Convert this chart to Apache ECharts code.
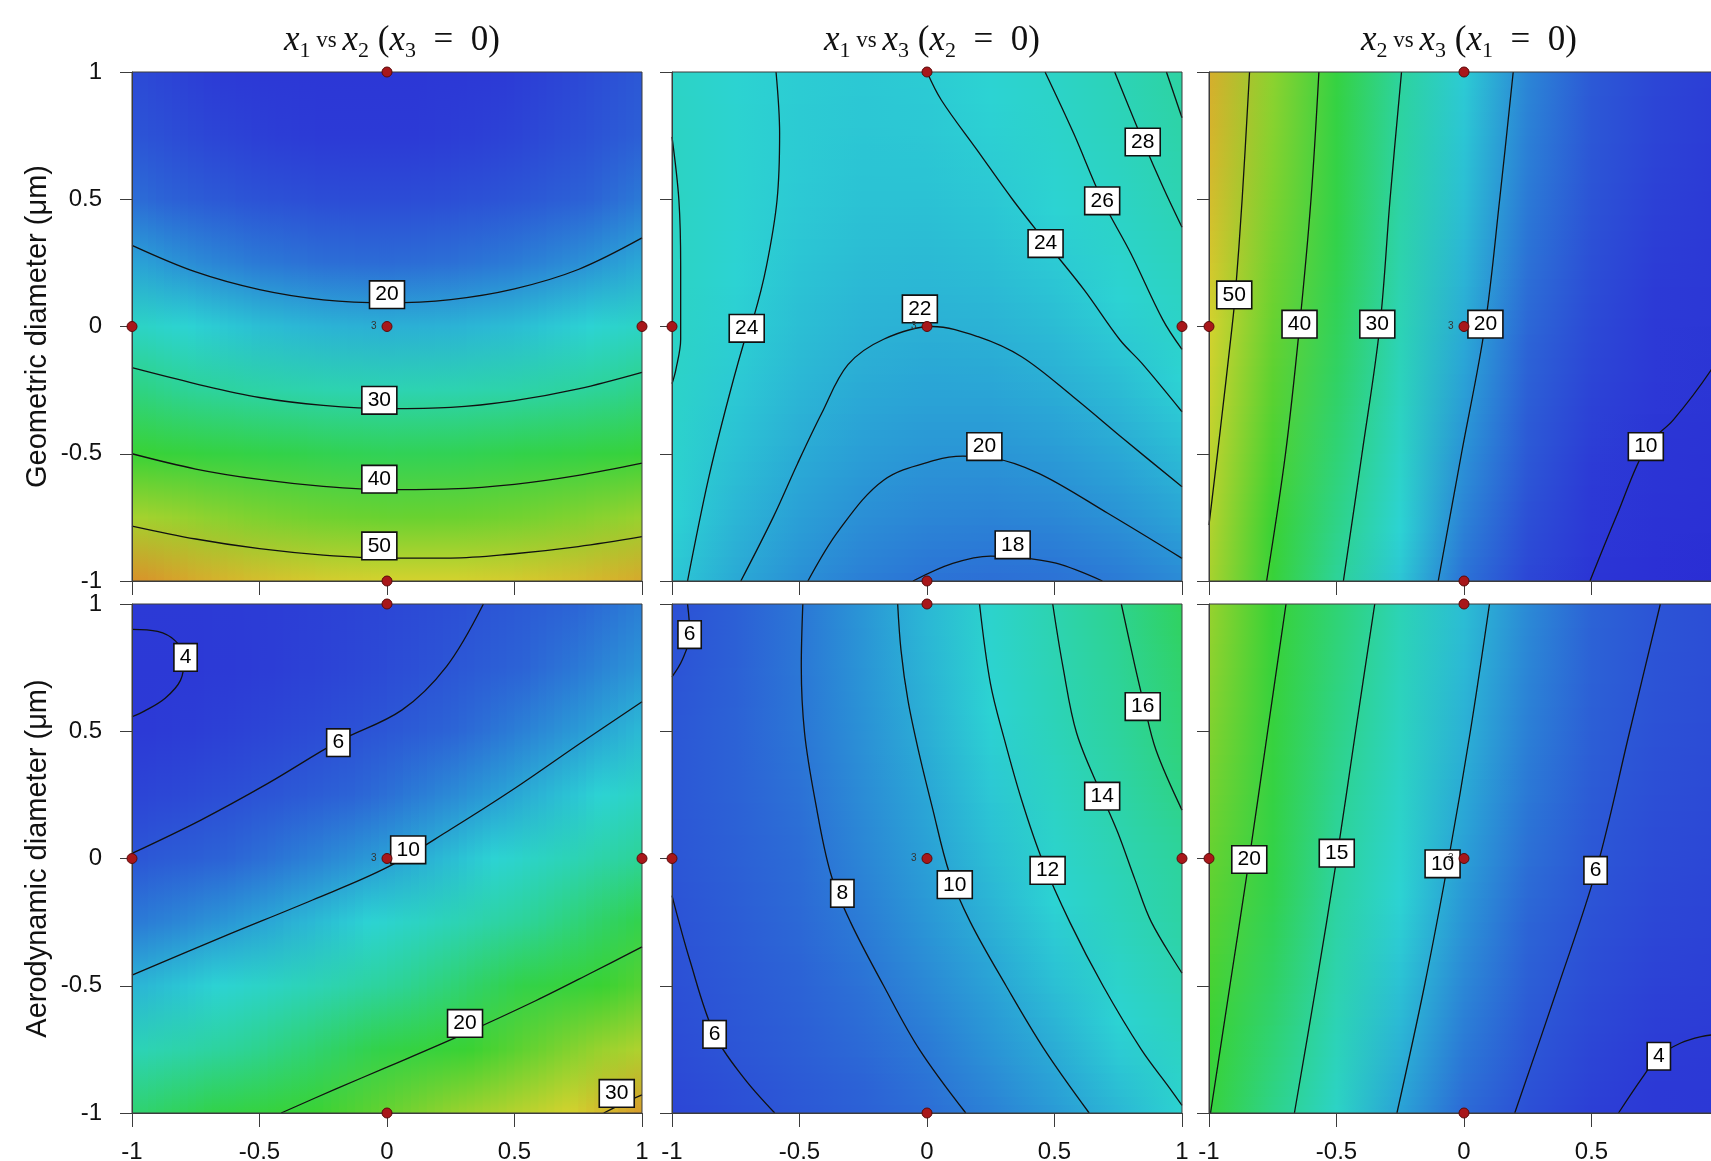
<!DOCTYPE html>
<html><head><meta charset="utf-8">
<script src="https://cdn.jsdelivr.net/npm/echarts/dist/echarts.min.js"></script>
<style>html,body{margin:0;padding:0;background:#fff}#c{width:1711px;height:1161px}</style>
</head><body><div id="c"></div>
<script>
// ---------------- data ----------------
const nodes = [-1, -0.75, -0.5, -0.25, 0, 0.25, 0.5, 0.75, 1];
const panelTitles = [['1','2','3'], ['1','3','2'], ['2','3','1']];
const rowNames = ['Geometric diameter (μm)', 'Aerodynamic diameter (μm)'];
const rowRanges = [[6, 59], [1, 32]];
const designPoints = [[0, 1], [-1, 0], [0, 0], [1, 0], [0, -1]];
const designReps = [1, 1, 3, 1, 1];

// response grids: rows y = 1 ... -1 (top to bottom), columns x = -1 ... 1
const p1Values = [
 [13.46, 11.82, 10.71, 10.12, 10.06, 10.53, 11.52, 13.05, 15.10],
 [14.79, 13.09, 11.92, 11.28, 11.16, 11.57, 12.51, 13.98, 15.97],
 [17.36, 15.61, 14.38, 13.68, 13.51, 13.87, 14.75, 16.16, 18.10],
 [21.18, 19.37, 18.08, 17.33, 17.10, 17.40, 18.23, 19.58, 21.46],
 [26.23, 24.37, 23.03, 22.21, 21.93, 22.17, 22.94, 24.24, 26.07],
 [32.53, 30.61, 29.21, 28.34, 28.00, 28.19, 28.90, 30.14, 31.91],
 [40.07, 38.09, 36.64, 35.72, 35.32, 35.45, 36.11, 37.29, 39.01],
 [48.86, 46.82, 45.32, 44.33, 43.88, 43.95, 44.56, 45.69, 47.34],
 [58.88, 56.79, 55.23, 54.19, 53.68, 53.70, 54.24, 55.32, 56.92]
];
const p2Values = [
 [25.97, 24.75, 24.02, 23.77, 24.00, 24.72, 25.91, 27.59, 29.75],
 [26.20, 24.86, 23.99, 23.62, 23.72, 24.31, 25.38, 26.93, 28.96],
 [26.28, 24.81, 23.82, 23.31, 23.29, 23.75, 24.69, 26.11, 28.02],
 [26.22, 24.62, 23.51, 22.87, 22.72, 23.05, 23.86, 25.16, 26.94],
 [26.02, 24.29, 23.04, 22.28, 22.00, 22.20, 22.89, 24.05, 25.70],
 [25.67, 23.81, 22.44, 21.55, 21.14, 21.21, 21.77, 22.81, 24.33],
 [25.17, 23.19, 21.69, 20.67, 20.13, 20.08, 20.50, 21.42, 22.81],
 [24.53, 22.42, 20.79, 19.64, 18.98, 18.80, 19.10, 19.88, 21.15],
 [23.75, 21.51, 19.75, 18.47, 17.68, 17.37, 17.54, 18.20, 19.33]
];
const p3Values = [
 [56.54, 46.49, 37.71, 30.20, 23.96, 18.99, 15.28, 12.85, 11.68],
 [55.99, 45.99, 37.24, 29.77, 23.56, 18.62, 14.95, 12.56, 11.43],
 [55.34, 45.37, 36.65, 29.22, 23.05, 18.15, 14.52, 12.15, 11.06],
 [54.56, 44.63, 35.95, 28.56, 22.42, 17.55, 13.96, 11.63, 10.58],
 [53.68, 43.78, 35.14, 27.78, 21.68, 16.85, 13.29, 11.00, 9.98],
 [52.69, 42.82, 34.22, 26.89, 20.83, 16.04, 12.51, 10.26, 9.27],
 [51.58, 41.75, 33.19, 25.90, 19.87, 15.11, 11.62, 9.41, 8.46],
 [50.36, 40.57, 32.03, 24.78, 18.79, 14.07, 10.62, 8.44, 7.52],
 [49.02, 39.27, 30.77, 23.56, 17.60, 12.91, 9.50, 7.35, 6.48]
];
const p4Values = [
 [4.07, 4.09, 4.25, 4.57, 5.02, 5.62, 6.37, 7.26, 8.29],
 [3.76, 3.94, 4.27, 4.74, 5.35, 6.11, 7.02, 8.07, 9.26],
 [4.01, 4.36, 4.84, 5.47, 6.24, 7.16, 8.22, 9.44, 10.79],
 [4.81, 5.31, 5.95, 6.74, 7.67, 8.75, 9.97, 11.34, 12.85],
 [6.15, 6.81, 7.61, 8.56, 9.65, 10.89, 12.27, 13.80, 15.47],
 [8.04, 8.86, 9.82, 10.93, 12.18, 13.58, 15.12, 16.81, 18.64],
 [10.49, 11.47, 12.58, 13.85, 15.26, 16.82, 18.52, 20.37, 22.35],
 [13.48, 14.62, 15.90, 17.32, 18.89, 20.61, 22.47, 24.47, 26.62],
 [17.01, 18.31, 19.75, 21.33, 23.06, 24.94, 26.95, 29.12, 31.43]
];
const p5Values = [
 [5.72, 6.84, 7.94, 9.27, 10.72, 12.31, 14.05, 15.91, 17.90],
 [5.95, 6.94, 7.97, 9.21, 10.54, 12.07, 13.77, 15.53, 17.29],
 [6.20, 7.07, 7.93, 9.07, 10.29, 11.74, 13.41, 15.12, 16.82],
 [6.25, 7.03, 7.74, 8.85, 9.96, 11.35, 12.84, 14.46, 16.20],
 [6.13, 6.89, 7.51, 8.59, 9.68, 10.94, 12.29, 13.76, 15.26],
 [5.90, 6.66, 7.40, 8.21, 9.28, 10.41, 11.64, 13.19, 14.72],
 [5.70, 6.40, 7.10, 7.78, 8.71, 9.75, 11.00, 12.32, 13.90],
 [5.40, 6.10, 6.76, 7.42, 8.08, 9.14, 10.20, 11.53, 12.85],
 [4.95, 5.60, 6.26, 6.93, 7.60, 8.40, 9.44, 10.63, 12.00]
];
const p6Values = [
 [25.16, 20.79, 16.96, 13.68, 10.95, 8.77, 7.14, 6.05, 5.52],
 [24.72, 20.40, 16.62, 13.39, 10.71, 8.58, 7.00, 5.96, 5.48],
 [24.22, 19.95, 16.22, 13.04, 10.41, 8.33, 6.80, 5.81, 5.38],
 [23.67, 19.45, 15.77, 12.64, 10.06, 8.03, 6.55, 5.61, 5.23],
 [23.06, 18.89, 15.26, 12.18, 9.65, 7.67, 6.24, 5.35, 5.02],
 [22.39, 18.27, 14.69, 11.66, 9.18, 7.25, 5.87, 5.03, 4.75],
 [21.67, 17.60, 14.07, 11.09, 8.66, 6.78, 5.45, 4.66, 4.43],
 [20.89, 16.87, 13.39, 10.46, 8.08, 6.25, 4.97, 4.23, 4.05],
 [20.06, 16.09, 12.66, 9.78, 7.45, 5.67, 4.44, 3.75, 3.62]
];

// contour lines: level, points, label anchor
const p1Contours = [
 {level: 20, pts: [[-1,0.319],[-0.75,0.2145],[-0.5,0.145],[-0.25,0.105],[0,0.093],[0.25,0.106],[0.5,0.148],[0.75,0.224],[1,0.348]], at: [0, 0.125]},
 {level: 30, pts: [[-1,-0.162],[-0.75,-0.225],[-0.5,-0.279],[-0.25,-0.31],[0,-0.323],[0.25,-0.318],[0.5,-0.291],[0.75,-0.245],[1,-0.18]], at: [-0.03, -0.29]},
 {level: 40, pts: [[-1,-0.5],[-0.75,-0.56],[-0.5,-0.601],[-0.25,-0.628],[0,-0.641],[0.25,-0.638],[0.5,-0.62],[0.75,-0.585],[1,-0.537]], at: [-0.03, -0.6]},
 {level: 50, pts: [[-1,-0.784],[-0.75,-0.835],[-0.5,-0.873],[-0.25,-0.898],[0,-0.91],[0.25,-0.91],[0.5,-0.893],[0.75,-0.865],[1,-0.826]], at: [-0.03, -0.862]}
];
const p2Contours = [
 {level: 26, pts: [[-1,0.745],[-0.973,0.497],[-0.966,0.235],[-0.966,-0.05],[-0.985,-0.17],[-1,-0.225]], at: null},
 {level: 24, pts: [[-0.592,1],[-0.578,0.759],[-0.588,0.497],[-0.63,0.235],[-0.679,0.039],[-0.703,-0.014],[-0.777,-0.276],[-0.858,-0.603],[-0.939,-1]], at: [-0.707,-0.007]},
 {level: 22, pts: [[-0.73,-1],[-0.602,-0.747],[-0.507,-0.537],[-0.413,-0.341],[-0.31,-0.15],[-0.17,-0.05],[0.02,0.0],[0.2,-0.04],[0.371,-0.119],[0.573,-0.276],[0.776,-0.446],[1,-0.63]], at: [-0.028,0.069]},
 {level: 20, pts: [[-0.467,-1],[-0.345,-0.8],[-0.169,-0.603],[0.033,-0.525],[0.141,-0.509],[0.25,-0.515],[0.438,-0.577],[0.709,-0.734],[1,-0.911]], at: [0.225,-0.472]},
 {level: 18, pts: [[-0.055,-1],[0.101,-0.931],[0.249,-0.902],[0.337,-0.905],[0.506,-0.93],[0.688,-1]], at: [0.336,-0.858]},
 {level: 24, pts: [[0,1],[0.056,0.89],[0.196,0.694],[0.337,0.497],[0.47,0.327],[0.617,0.143],[0.757,-0.053],[0.843,-0.145],[1,-0.335]], at: [0.465,0.326]},
 {level: 26, pts: [[0.463,1],[0.575,0.759],[0.687,0.497],[0.799,0.288],[0.925,0.026],[1,-0.09]], at: [0.687,0.494]},
 {level: 28, pts: [[0.736,1],[0.848,0.726],[0.925,0.549],[1,0.39]], at: [0.846,0.725]},
 {level: 30, pts: [[0.939,1],[1,0.82]], at: null}
];
const p3Contours = [
 {level: 50, pts: [[-0.841,1],[-0.87,0.5],[-0.897,0.124],[-0.911,-0.014],[-0.955,-0.4],[-1,-0.78]], at: [-0.901,0.124]},
 {level: 40, pts: [[-0.569,1],[-0.6,0.5],[-0.645,0],[-0.7,-0.5],[-0.774,-1]], at: [-0.645,0.009]},
 {level: 30, pts: [[-0.245,1],[-0.29,0.5],[-0.33,0],[-0.4,-0.5],[-0.473,-1]], at: [-0.34,0.009]},
 {level: 20, pts: [[0.193,1],[0.14,0.5],[0.082,0],[-0.01,-0.5],[-0.101,-1]], at: [0.084,0.009]},
 {level: 10, pts: [[0.494,-1],[0.6,-0.74],[0.716,-0.472],[0.821,-0.367],[0.969,-0.171],[1,-0.1]], at: [0.713,-0.472]}
];
const p4Contours = [
 {level: 4, pts: [[-1,0.9],[-0.9,0.892],[-0.83,0.855],[-0.795,0.79],[-0.81,0.7],[-0.87,0.63],[-0.95,0.58],[-1,0.557]], at: [-0.79,0.79]},
 {level: 6, pts: [[0.378,1],[0.233,0.754],[0.058,0.583],[-0.192,0.459],[-0.467,0.295],[-0.73,0.151],[-1,0.02]], at: [-0.191,0.455]},
 {level: 10, pts: [[-1,-0.458],[-0.642,-0.307],[-0.292,-0.163],[0,-0.035],[0.25,0.115],[0.5,0.275],[0.758,0.453],[1,0.616]], at: [0.083,0.034]},
 {level: 20, pts: [[-0.415,-1],[-0.2,-0.905],[0,-0.82],[0.3,-0.69],[0.583,-0.559],[0.8,-0.45],[1,-0.347]], at: [0.306,-0.648]},
 {level: 30, pts: [[0.85,-1],[0.93,-0.96],[1,-0.929]], at: [0.901,-0.923]}
];
const p5Contours = [
 {level: 6, pts: [[-0.939,1],[-0.93,0.88],[-0.96,0.78],[-1,0.714]], at: [-0.931,0.88]},
 {level: 6, pts: [[-1,-0.146],[-0.93,-0.4],[-0.833,-0.691],[-0.72,-0.86],[-0.597,-1]], at: [-0.833,-0.691]},
 {level: 8, pts: [[-0.487,1],[-0.493,0.754],[-0.48,0.492],[-0.439,0.23],[-0.378,-0.058],[-0.3,-0.25],[-0.17,-0.5],[-0.03,-0.75],[0.152,-1]], at: [-0.332,-0.137]},
 {level: 10, pts: [[-0.115,1],[-0.102,0.819],[-0.075,0.623],[-0.034,0.426],[0.02,0.204],[0.088,-0.058],[0.17,-0.25],[0.31,-0.5],[0.46,-0.75],[0.636,-1]], at: [0.109,-0.103]},
 {level: 12, pts: [[0.206,1],[0.249,0.686],[0.304,0.466],[0.371,0.23],[0.452,-0.006],[0.56,-0.25],[0.69,-0.5],[0.84,-0.75],[0.95,-0.9],[1,-0.97]], at: [0.473,-0.047]},
 {level: 14, pts: [[0.493,1],[0.533,0.754],[0.587,0.492],[0.688,0.243],[0.749,0.1],[0.816,-0.084],[0.88,-0.25],[1,-0.45]], at: [0.687,0.245]},
 {level: 16, pts: [[0.762,1],[0.816,0.754],[0.85,0.61],[0.898,0.426],[1,0.19]], at: [0.846,0.597]}
];
const p6Contours = [
 {level: 20, pts: [[-0.698,1],[-0.77,0.5],[-0.842,0],[-0.918,-0.5],[-0.994,-1]], at: [-0.842,-0.004]},
 {level: 15, pts: [[-0.35,1],[-0.425,0.5],[-0.499,0],[-0.58,-0.5],[-0.665,-1]], at: [-0.499,0.021]},
 {level: 10, pts: [[0.10,1],[0.025,0.5],[-0.06,0],[-0.155,-0.5],[-0.263,-1]], at: [-0.084,-0.021]},
 {level: 6, pts: [[0.77,1],[0.65,0.5],[0.52,-0.04],[0.37,-0.5],[0.199,-1]], at: [0.516,-0.047]},
 {level: 4, pts: [[0.606,-1],[0.70,-0.86],[0.764,-0.777],[0.85,-0.725],[0.93,-0.70],[1,-0.69]], at: [0.764,-0.777]}
];

// ---------------- styling / layout ----------------
const panelValues = [p1Values, p2Values, p3Values, p4Values, p5Values, p6Values];
const panelContours = [p1Contours, p2Contours, p3Contours, p4Contours, p5Contours, p6Contours];
const panelOrient = ['v', 'h', 'h', 'v', 'h', 'h'];
const colLeft = [132, 672, 1209];
const rowTop = [72, 604];
const PW = 510, PH = 509;
const LABEL_FONT = 'Liberation Sans';

const colorStops = [
 [0.00, [42, 44, 212]], [0.10, [44, 58, 214]], [0.20, [44, 100, 214]], [0.28, [42, 160, 214]],
 [0.35, [44, 211, 211]], [0.47, [45, 211, 150]], [0.57, [50, 210, 74]], [0.65, [58, 210, 51]],
 [0.78, [152, 210, 46]], [0.90, [212, 210, 46]], [1.00, [216, 142, 42]]
];
function colorOf(v, range) {
  let t = (v - range[0]) / (range[1] - range[0]);
  t = Math.max(0, Math.min(1, t));
  for (let i = 1; i < colorStops.length; i++) {
    if (t <= colorStops[i][0]) {
      const a = colorStops[i - 1], b = colorStops[i];
      const u = (t - a[0]) / (b[0] - a[0]);
      const c = a[1].map((x, k) => Math.round(x + (b[1][k] - x) * u));
      return 'rgb(' + c.join(',') + ')';
    }
  }
  const l = colorStops[colorStops.length - 1][1];
  return 'rgb(' + l.join(',') + ')';
}

function backgroundSeries(p) {
  const values = panelValues[p];
  const range = rowRanges[Math.floor(p / 3)];
  const orient = panelOrient[p];
  const n = nodes.length;
  const SUB = 8;
  return {
    type: 'custom', xAxisIndex: p, yAxisIndex: p, silent: true, z: 1, animation: false,
    data: nodes.slice(0, n - 1).map((v, j) => [j]),
    renderItem: function (params, api) {
      const j = api.value(0);
      const children = [];
      for (let k = 0; k < SUB; k++) {
        const t = (k + 0.5) / SUB;
        if (orient === 'h') {
          const yTop = nodes[n - 1 - j], yBot = nodes[n - 2 - j];
          const y0 = yTop + (yBot - yTop) * k / SUB, y1 = yTop + (yBot - yTop) * (k + 1) / SUB;
          const a = api.coord([-1, y0]), b = api.coord([1, y1]);
          const stops = values[j].map((v, i) => ({offset: i / (n - 1), color: colorOf(v * (1 - t) + values[j + 1][i] * t, range)}));
          children.push({type: 'rect', shape: {x: a[0], y: a[1], width: b[0] - a[0], height: b[1] - a[1] + (j === n - 2 && k === SUB - 1 ? 0 : 1)},
            style: {fill: {type: 'linear', x: 0, y: 0, x2: 1, y2: 0, colorStops: stops}}});
        } else {
          const x0 = nodes[j] + (nodes[j + 1] - nodes[j]) * k / SUB, x1 = nodes[j] + (nodes[j + 1] - nodes[j]) * (k + 1) / SUB;
          const a = api.coord([x0, 1]), b = api.coord([x1, -1]);
          const stops = values.map((row, r) => ({offset: r / (n - 1), color: colorOf(row[j] * (1 - t) + row[j + 1] * t, range)}));
          children.push({type: 'rect', shape: {x: a[0], y: a[1], width: b[0] - a[0] + (j === n - 2 && k === SUB - 1 ? 0 : 1), height: b[1] - a[1]},
            style: {fill: {type: 'linear', x: 0, y: 0, x2: 0, y2: 1, colorStops: stops}}});
        }
      }
      return {type: 'group', children: children};
    }
  };
}

const grids = [], xAxes = [], yAxes = [], series = [], titles = [];
for (let p = 0; p < 6; p++) {
  const r = Math.floor(p / 3), c = p % 3;
  grids.push({left: colLeft[c], top: rowTop[r], width: PW, height: PH, show: true, z: 15,
    backgroundColor: 'transparent', borderColor: '#3c3c3c', borderWidth: 1, containLabel: false, outerBoundsMode: 'none'});
  xAxes.push({gridIndex: p, type: 'value', min: -1, max: 1, interval: 0.5, z: 12,
    axisLine: {show: true, onZero: false, lineStyle: {color: '#3c3c3c', width: 1}},
    axisTick: {show: true, length: 14, lineStyle: {color: '#3c3c3c', width: 1}},
    axisLabel: {show: r === 1, fontFamily: LABEL_FONT, fontSize: 24, color: '#111', margin: 27, showMinLabel: true, showMaxLabel: true, hideOverlap: false},
    splitLine: {show: false}});
  yAxes.push({gridIndex: p, type: 'value', min: -1, max: 1, interval: 0.5, z: 12,
    name: c === 0 ? rowNames[r] : '', nameLocation: 'middle', nameGap: 80, nameRotate: 90,
    nameTextStyle: {fontFamily: LABEL_FONT, fontSize: 29, color: '#111'},
    axisLine: {show: true, onZero: false, lineStyle: {color: '#3c3c3c', width: 1}},
    axisTick: {show: true, length: 12, lineStyle: {color: '#3c3c3c', width: 1}},
    axisLabel: {show: c === 0, fontFamily: LABEL_FONT, fontSize: 24, color: '#111', margin: 30, showMinLabel: true, showMaxLabel: true, hideOverlap: false},
    splitLine: {show: false}});

  series.push(backgroundSeries(p));

  panelContours[p].forEach(function (ct) {
    series.push({type: 'line', xAxisIndex: p, yAxisIndex: p, data: ct.pts, smooth: 0.35, symbol: 'none',
      silent: true, animation: false, z: 5, clip: true,
      lineStyle: {color: '#111', width: 1.3}});
  });
  series.push({type: 'scatter', xAxisIndex: p, yAxisIndex: p, silent: true, animation: false, z: 8, clip: false,
    symbol: 'rect', symbolSize: 1, itemStyle: {color: '#ffffff', opacity: 1},
    data: panelContours[p].filter(ct => ct.at).map(ct => [ct.at[0], ct.at[1], ct.level]),
    label: {show: true, position: 'inside', opacity: 1, formatter: q => String(q.value[2]), fontFamily: LABEL_FONT, fontSize: 21,
      color: '#000', backgroundColor: '#fff', borderColor: '#111', borderWidth: 1.6, padding: [3, 5, 1, 5], lineHeight: 22}});
  series.push({type: 'scatter', xAxisIndex: p, yAxisIndex: p, silent: true, animation: false, z: 20, clip: false,
    symbol: 'circle', symbolSize: 10,
    itemStyle: {color: '#a8171a', borderColor: '#5a0a0a', borderWidth: 1, opacity: 1},
    data: designPoints.map((pt, i) => ({value: pt,
      label: {show: designReps[i] > 1, formatter: String(designReps[i]), position: 'left', distance: 5,
        fontFamily: LABEL_FONT, fontSize: 10, color: '#333'}}))});

  if (r === 0) {
    const t = panelTitles[c];
    titles.push({text: '{i|x}{s|' + t[0] + '}{v| vs }{i|x}{s|' + t[1] + '}{n| (}{i|x}{s|' + t[2] + '}{n|  =  0)}',
      left: colLeft[c] + PW / 2, top: 15, textAlign: 'center',
      textStyle: {fontWeight: 'normal', rich: {
        i: {fontFamily: 'Liberation Serif', fontStyle: 'italic', fontWeight: 'normal', fontSize: 35, color: '#111', lineHeight: 42},
        s: {fontFamily: 'Liberation Serif', fontWeight: 'normal', fontSize: 22, color: '#111', lineHeight: 42, verticalAlign: 'bottom'},
        v: {fontFamily: 'Liberation Serif', fontWeight: 'normal', fontSize: 23, color: '#111', lineHeight: 42},
        n: {fontFamily: 'Liberation Serif', fontWeight: 'normal', fontSize: 35, color: '#111', lineHeight: 42}
      }}});
  }
}

const chart = echarts.init(document.getElementById('c'), null, {renderer: 'canvas', width: 1711, height: 1161});
chart.setOption({
  backgroundColor: '#ffffff',
  animation: false,
  title: titles,
  grid: grids,
  xAxis: xAxes,
  yAxis: yAxes,
  series: series
});
</script>
</body></html>
